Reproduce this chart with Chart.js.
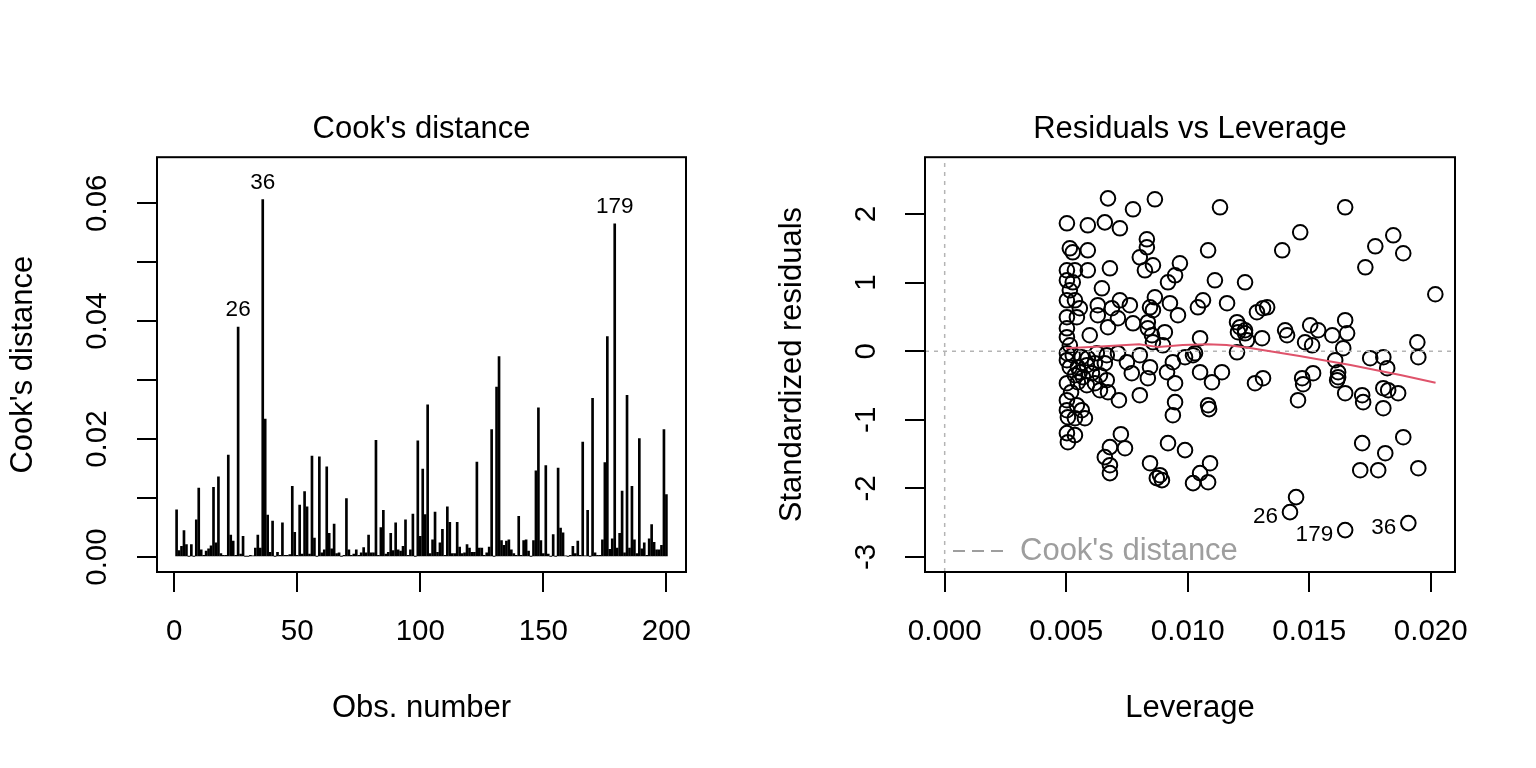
<!DOCTYPE html>
<html>
<head>
<meta charset="utf-8">
<script src="https://cdn.jsdelivr.net/npm/chart.js@4.4.1/dist/chart.umd.min.js"></script>
<style>
  html, body { margin: 0; padding: 0; background: #fff; }
  #wrap { position: relative; width: 1536px; height: 768px; }
  canvas { position: absolute; top: 0; }
  #cook { left: 0; }
  #lev { left: 768px; }
</style>
</head>
<body>
<div id="wrap">
  <canvas id="cook" width="768" height="768"></canvas>
  <canvas id="lev" width="768" height="768"></canvas>
</div>
<script>
// --- Cook's distance, obs 1..200 ---
const cookD = [
  0.0080, 0.0011, 0.0018, 0.0045, 0.0021, 0.0001, 0.0021, 0.0001, 0.0063, 0.0117,
  0.0012, 0.0003, 0.0010, 0.0014, 0.0019, 0.0118, 0.0024, 0.0136, 0.0006, 0.0003,
  0.0003, 0.0173, 0.0037, 0.0027, 0.0003, 0.0390, 0.0005, 0.0035, 0.0001, 0.0001,
  0.0003, 0.0002, 0.0015, 0.0037, 0.0015, 0.0606, 0.0234, 0.0071, 0.0008, 0.0061,
  0.0001, 0.0008, 0.0003, 0.0058, 0.0003, 0.0003, 0.0004, 0.0120, 0.0042, 0.0003,
  0.0088, 0.0005, 0.0111, 0.0085, 0.0005, 0.0171, 0.0032, 0.0001, 0.0170, 0.0007,
  0.0012, 0.0153, 0.0040, 0.0014, 0.0056, 0.0006, 0.0007, 0.0001, 0.0003, 0.0099,
  0.0012, 0.0003, 0.0005, 0.0012, 0.0003, 0.0007, 0.0016, 0.0007, 0.0037, 0.0007,
  0.0007, 0.0198, 0.0003, 0.0050, 0.0079, 0.0005, 0.0008, 0.0040, 0.0011, 0.0058,
  0.0012, 0.0010, 0.0018, 0.0063, 0.0003, 0.0012, 0.0073, 0.0001, 0.0197, 0.0035,
  0.0149, 0.0072, 0.0258, 0.0006, 0.0029, 0.0076, 0.0008, 0.0024, 0.0047, 0.0003,
  0.0085, 0.0059, 0.0006, 0.0006, 0.0059, 0.0017, 0.0006, 0.0007, 0.0021, 0.0015,
  0.0008, 0.0008, 0.0161, 0.0015, 0.0015, 0.0003, 0.0007, 0.0017, 0.0216, 0.0001,
  0.0288, 0.0340, 0.0028, 0.0020, 0.0027, 0.0029, 0.0012, 0.0006, 0.0003, 0.0069,
  0.0003, 0.0028, 0.0029, 0.0010, 0.0001, 0.0028, 0.0146, 0.0253, 0.0028, 0.0006,
  0.0155, 0.0005, 0.0001, 0.0038, 0.0001, 0.0151, 0.0049, 0.0041, 0.0002, 0.0001,
  0.0003, 0.0018, 0.0006, 0.0027, 0.0003, 0.0195, 0.0002, 0.0079, 0.0001, 0.0269,
  0.0007, 0.0003, 0.0003, 0.0029, 0.0160, 0.0374, 0.0013, 0.0031, 0.0565, 0.0015,
  0.0040, 0.0112, 0.0007, 0.0274, 0.0015, 0.0120, 0.0029, 0.0006, 0.0201, 0.0014,
  0.0024, 0.0003, 0.0031, 0.0055, 0.0025, 0.0012, 0.0012, 0.0020, 0.0216, 0.0106
];
const cookXTicks = [0, 50, 100, 150, 200];
const cookYTicks = [0, 0.01, 0.02, 0.03, 0.04, 0.05, 0.06];
const cookYLabels = ['0.00', '', '0.02', '', '0.04', '', '0.06'];
const cookFlagged = [26, 36, 179];

// --- Residuals vs Leverage ---
const leverage = [
  0.00672, 0.00659, 0.00721, 0.00503, 0.00589, 0.00515, 0.00589, 0.00527, 0.00503, 0.00536,
  0.00589, 0.00680, 0.00503, 0.00527, 0.00515, 0.00647, 0.00721, 0.00503, 0.00536, 0.00556,
  0.00630, 0.00688, 0.00503, 0.00544, 0.00630, 0.00713, 0.00503, 0.00672, 0.00503, 0.00503,
  0.00527, 0.00564, 0.00589, 0.00626, 0.00667, 0.00713, 0.00515, 0.00548, 0.00585, 0.00618,
  0.00659, 0.00536, 0.00569, 0.00606, 0.00639, 0.00503, 0.00548, 0.00585, 0.00618, 0.00667,
  0.00672, 0.00717, 0.00503, 0.00544, 0.00503, 0.00564, 0.00507, 0.00536, 0.00577, 0.00503,
  0.00507, 0.00536, 0.00680, 0.00659, 0.00680, 0.00680, 0.00725, 0.00865, 0.00775, 0.00832,
  0.00832, 0.00803, 0.00857, 0.00824, 0.00968, 0.00948, 0.00919, 0.00762, 0.00865, 0.00845,
  0.00857, 0.00927, 0.00960, 0.00775, 0.00836, 0.00836, 0.00906, 0.00853, 0.00857, 0.00898,
  0.00750, 0.00803, 0.00845, 0.00770, 0.00836, 0.00915, 0.00939, 0.00989, 0.01022, 0.00948,
  0.00803, 0.00948, 0.00939, 0.00742, 0.00919, 0.00989, 0.00845, 0.00886, 0.00894, 0.00873,
  0.01022, 0.01133, 0.01084, 0.01389, 0.01463, 0.01112, 0.01236, 0.01063, 0.01042, 0.01162,
  0.01285, 0.01310, 0.01327, 0.01203, 0.01215, 0.01236, 0.01236, 0.01207, 0.01244, 0.01306,
  0.01401, 0.01409, 0.01051, 0.01030, 0.01203, 0.01051, 0.01141, 0.01100, 0.01277, 0.01310,
  0.01084, 0.01088, 0.01092, 0.01051, 0.01084, 0.01446, 0.01421, 0.01648, 0.01846, 0.01772,
  0.01887, 0.01731, 0.01504, 0.01537, 0.01483, 0.01512, 0.01595, 0.01648, 0.01656, 0.01640,
  0.01607, 0.01751, 0.01805, 0.01821, 0.01945, 0.01949, 0.01619, 0.01619, 0.01615, 0.01516,
  0.01471, 0.01475, 0.01648, 0.01718, 0.01722, 0.01805, 0.01825, 0.01866, 0.01805, 0.01454,
  0.01718, 0.01887, 0.01813, 0.01710, 0.01784, 0.01949, 0.01648, 0.01908, 0.02019, 0.00503,
  0.00515, 0.00556, 0.00520, 0.00639, 0.00597
];
const stdResid = [
  2.230, 1.880, 1.793, 1.866, 1.837, 1.501, 1.472, 1.443, 1.181, 1.181,
  1.181, 1.210, 1.035, 1.006, 0.889, 0.918, 0.743, 0.743, 0.743, 0.627,
  0.671, 0.627, 0.496, 0.496, 0.525, 0.481, 0.335, 0.350, 0.204, -0.029,
  -0.058, -0.087, -0.102, -0.029, -0.058, -0.029, -0.233, -0.233, -0.204, -0.175,
  -0.175, -0.350, -0.379, -0.321, -0.350, -0.466, -0.452, -0.496, -0.466, -0.423,
  -0.598, -0.714, -0.714, -0.787, -0.860, -0.860, -0.962, -0.977, -0.977, -1.195,
  -1.327, -1.224, -1.399, -1.545, -1.662, -1.778, -1.210, 2.216, 2.070, 1.633,
  1.516, 1.370, 1.254, 1.181, 1.283, 1.108, 1.006, 0.671, 0.787, 0.641,
  0.598, 0.700, 0.525, 0.408, 0.423, 0.335, 0.277, 0.233, 0.131, 0.087,
  -0.160, -0.058, -0.233, -0.321, -0.394, -0.306, -0.160, -0.087, -0.058, -0.466,
  -0.641, -0.743, -0.933, -1.414, -1.341, -1.443, -1.633, -1.808, -1.880, -1.851,
  -1.924, 2.099, 1.472, 1.472, 1.735, 1.035, 1.006, 0.743, 0.641, 0.700,
  0.569, 0.627, 0.641, 0.423, 0.350, 0.306, 0.262, 0.277, 0.160, 0.190,
  0.306, 0.233, 0.190, -0.029, -0.015, -0.306, -0.306, -0.452, -0.466, -0.394,
  -0.787, -0.845, -1.633, -1.778, -1.910, -2.128, -2.347, 2.099, 1.691, 1.531,
  1.429, 1.224, 0.379, 0.306, 0.131, 0.087, 0.233, 0.452, 0.262, 0.044,
  -0.131, -0.102, -0.087, -0.248, 0.131, -0.087, -0.306, -0.379, -0.423, -0.321,
  -0.394, -0.481, -0.612, -0.641, -0.743, -0.539, -0.569, -0.612, -0.831, -0.714,
  -1.341, -1.254, -1.487, -1.735, -1.735, -1.706, -2.609, -2.507, 0.831, -0.131,
  0.087, -0.306, -0.598, -0.569, 0.233
];
const smoothLev = [0.00499, 0.0064, 0.0080, 0.0088, 0.0098, 0.0108, 0.0116, 0.0125, 0.0146, 0.0167, 0.0188, 0.0202];
const smoothRes = [0.044, 0.07, 0.10, 0.06, 0.09, 0.10, 0.09, 0.05, -0.07, -0.20, -0.35, -0.46];
const levXTicks = [0, 0.005, 0.010, 0.015, 0.020];
const levXLabels = ['0.000', '0.005', '0.010', '0.015', '0.020'];
const levYTicks = [-3, -2, -1, 0, 1, 2];
const levFlagIdx = [146, 186, 187];
const levFlagNames = ['26', '179', '36'];

const FONT = "'Liberation Sans', Arial, Helvetica, sans-serif";
Chart.defaults.font.family = FONT;
Chart.defaults.color = '#000';

function tickGrid() {
  return { drawOnChartArea: false, drawTicks: true, tickLength: 20, color: '#000', lineWidth: 2, offset: false };
}

// box round the plot region
const framePlugin = {
  id: 'frame',
  afterDraw(chart) {
    const { ctx, chartArea: a } = chart;
    ctx.save();
    ctx.strokeStyle = '#000';
    ctx.lineWidth = 2;
    ctx.strokeRect(a.left, a.top, a.right - a.left, a.bottom - a.top);
    ctx.restore();
  }
};

const cookLabels = {
  id: 'cookLabels',
  afterDatasetsDraw(chart) {
    const { ctx, scales: { x, y } } = chart;
    ctx.save();
    ctx.font = '22.5px ' + FONT;
    ctx.fillStyle = '#000';
    ctx.textAlign = 'center';
    ctx.textBaseline = 'middle';
    cookFlagged.forEach(o => {
      ctx.fillText(String(o), x.getPixelForValue(o), y.getPixelForValue(cookD[o - 1]) - 17);
    });
    ctx.restore();
  }
};

const levExtras = {
  id: 'levExtras',
  afterDatasetsDraw(chart) {
    const { ctx, chartArea: a, scales: { x, y } } = chart;
    ctx.save();
    ctx.font = '22.5px ' + FONT;
    ctx.fillStyle = '#000';
    ctx.textAlign = 'right';
    ctx.textBaseline = 'middle';
    levFlagIdx.forEach((k, j) => {
      ctx.fillText(levFlagNames[j], x.getPixelForValue(leverage[k]) - 12, y.getPixelForValue(stdResid[k]) + 5);
    });
    // legend
    const ly = a.bottom - 21;
    ctx.strokeStyle = '#9E9E9E';
    ctx.lineWidth = 2;
    ctx.setLineDash([12, 7]);
    ctx.beginPath();
    ctx.moveTo(a.left + 28, ly);
    ctx.lineTo(a.left + 85, ly);
    ctx.stroke();
    ctx.setLineDash([]);
    ctx.font = '31px ' + FONT;
    ctx.fillStyle = '#9E9E9E';
    ctx.textAlign = 'left';
    ctx.fillText("Cook's distance", a.left + 95, ly);
    ctx.restore();
  }
};

new Chart(document.getElementById('cook'), {
  type: 'bar',
  data: {
    datasets: [{
      data: cookD.map((v, i) => ({ x: i + 1, y: v })),
      backgroundColor: '#000',
      borderWidth: 0,
      barThickness: 2
    }]
  },
  options: {
    responsive: false,
    animation: false,
    events: [],
    layout: { padding: { left: 0, right: 82, top: 0, bottom: 0 } },
    plugins: {
      legend: { display: false },
      tooltip: { enabled: false },
      title: {
        display: true, text: "Cook's distance", fullSize: false, color: '#000',
        font: { size: 31, weight: 'normal' }, padding: { top: 111, bottom: 9 }
      }
    },
    scales: {
      x: {
        type: 'linear', min: -6.96, max: 207.96, offset: false,
        grid: tickGrid(), border: { display: false },
        afterBuildTicks: s => { s.ticks = cookXTicks.map(v => ({ value: v })); },
        afterFit: s => { s.height = 196; },
        ticks: { font: { size: 29.5 }, color: '#000', padding: 22, maxRotation: 0, autoSkip: false },
        title: { display: true, text: 'Obs. number', color: '#000', font: { size: 31 }, padding: { top: 0, bottom: 41 } }
      },
      y: {
        type: 'linear', min: -0.00254, max: 0.0678,
        grid: tickGrid(), border: { display: false },
        afterBuildTicks: s => { s.ticks = cookYTicks.map(v => ({ value: v })); },
        afterFit: s => { s.width = 157; },
        ticks: {
          font: { size: 29.5 }, color: '#000', padding: 10, minRotation: 90, maxRotation: 90,
          crossAlign: 'center', autoSkip: false,
          callback: (v, i) => cookYLabels[i]
        },
        title: { display: true, text: "Cook's distance", color: '#000', font: { size: 31 }, padding: { top: 4.5, bottom: 0 } }
      }
    }
  },
  plugins: [framePlugin, cookLabels]
});

new Chart(document.getElementById('lev'), {
  type: 'scatter',
  data: {
    datasets: [
      {
        data: smoothLev.map((v, i) => ({ x: v, y: smoothRes[i] })),
        showLine: true, borderColor: '#DF536B', borderWidth: 2, pointRadius: 0, order: 0
      },
      {
        data: [{ x: -0.00081, y: 0 }, { x: 0.0210, y: 0 }],
        showLine: true, borderColor: '#B4B4B4', borderWidth: 1.5, borderDash: [4, 5], pointRadius: 0, order: 1
      },
      {
        data: [{ x: 0, y: -3.22 }, { x: 0, y: 2.83 }],
        showLine: true, borderColor: '#B4B4B4', borderWidth: 1.5, borderDash: [4, 5], pointRadius: 0, order: 1
      },
      {
        data: leverage.map((v, i) => ({ x: v, y: stdResid[i] })),
        pointRadius: 7.3, pointBorderWidth: 2, pointBorderColor: '#000',
        pointBackgroundColor: 'rgba(0,0,0,0)', order: 2
      }
    ]
  },
  options: {
    responsive: false,
    animation: false,
    events: [],
    layout: { padding: { left: 0, right: 81, top: 0, bottom: 0 } },
    plugins: {
      legend: { display: false },
      tooltip: { enabled: false },
      title: {
        display: true, text: 'Residuals vs Leverage', fullSize: false, color: '#000',
        font: { size: 31, weight: 'normal' }, padding: { top: 111, bottom: 9 }
      }
    },
    scales: {
      x: {
        type: 'linear', min: -0.00081, max: 0.0210,
        grid: tickGrid(), border: { display: false },
        afterBuildTicks: s => { s.ticks = levXTicks.map(v => ({ value: v })); },
        afterFit: s => { s.height = 196; },
        ticks: {
          font: { size: 29.5 }, color: '#000', padding: 22, maxRotation: 0, autoSkip: false,
          callback: (v, i) => levXLabels[i]
        },
        title: { display: true, text: 'Leverage', color: '#000', font: { size: 31 }, padding: { top: 0, bottom: 41 } }
      },
      y: {
        type: 'linear', min: -3.22, max: 2.83,
        grid: tickGrid(), border: { display: false },
        afterBuildTicks: s => { s.ticks = levYTicks.map(v => ({ value: v })); },
        afterFit: s => { s.width = 157; },
        ticks: {
          font: { size: 29.5 }, color: '#000', padding: 25, minRotation: 90, maxRotation: 90,
          crossAlign: 'center', autoSkip: false,
          callback: v => String(v)
        },
        title: { display: true, text: 'Standardized residuals', color: '#000', font: { size: 31 }, padding: { top: 5.5, bottom: 0 } }
      }
    }
  },
  plugins: [framePlugin, levExtras]
});
</script>
</body>
</html>
